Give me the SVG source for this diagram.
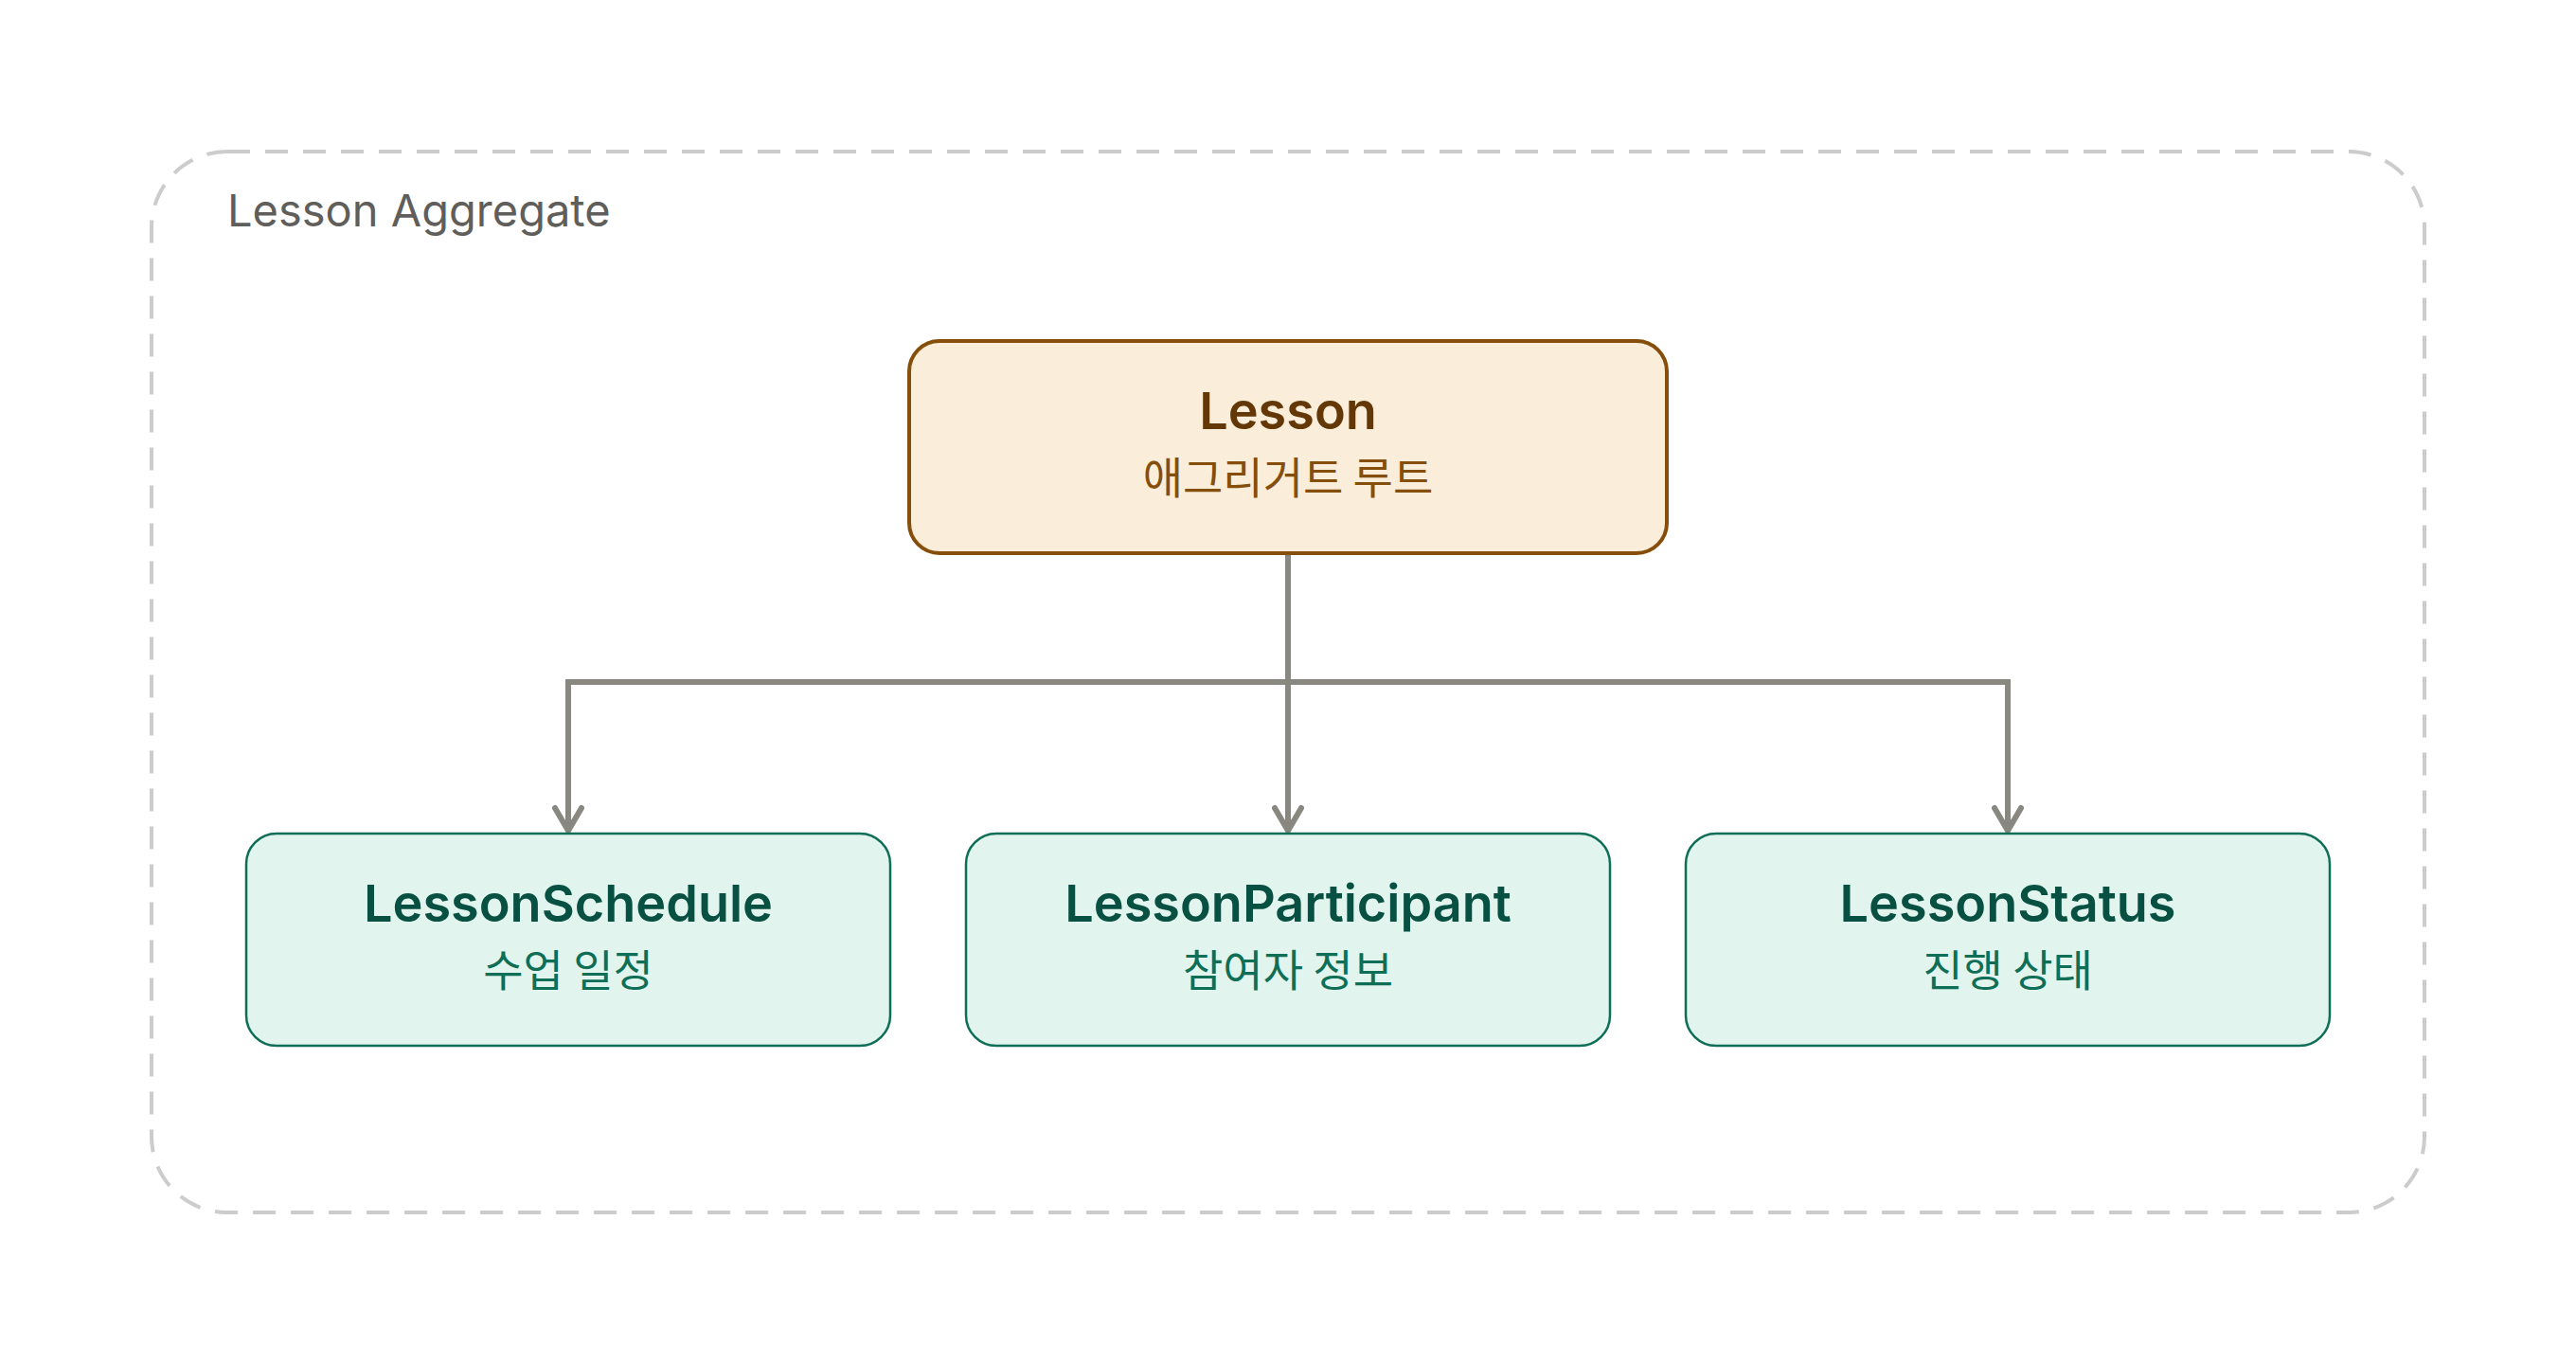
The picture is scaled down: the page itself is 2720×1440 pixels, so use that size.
<svg xmlns="http://www.w3.org/2000/svg" width="2720" height="1440" viewBox="0 0 2720 1440">
  <style>
    .t { font-family: Inter, "Noto Sans", "Noto Sans CJK KR", sans-serif; text-anchor: middle; }
    .title { font-size: 54px; font-weight: 600; }
    .sub { font-size: 46px; font-weight: 400; font-family: "Noto Sans CJK KR", Inter, sans-serif; }
    .root rect { fill: #FAEEDA; stroke: #854F0B; stroke-width: 4; }
    .root .title { fill: #633806; }
    .root .sub { fill: #854F0B; }
    .child rect { fill: #E1F5EE; stroke: #0F6E56; stroke-width: 2.5; }
    .child .title { fill: #085041; }
    .child .sub { fill: #0F6E56; }
    .conn path { fill: none; stroke: #888780; stroke-width: 6; stroke-linejoin: miter; }
  </style>
  <defs>
    <marker id="arrow" markerUnits="userSpaceOnUse" viewBox="-32 -20 36 40" refX="0" refY="0" markerWidth="36" markerHeight="40" orient="auto">
      <path d="M-24,-14 L0,0 L-24,14" fill="none" stroke="#888780" stroke-width="6" stroke-linecap="round" stroke-linejoin="round"/>
    </marker>
  </defs>
  <rect width="2720" height="1440" fill="#ffffff"/>
  <g id="aggregate">
    <rect x="160" y="160" width="2400" height="1120" rx="80" ry="80" fill="none" stroke="#cccccc" stroke-width="4" stroke-dasharray="24 16"/>
    <text x="240" y="239" font-family="Inter, 'Noto Sans', sans-serif" font-size="47" fill="#5F5E5A">Lesson Aggregate</text>
  </g>
  <g id="connectors" class="conn">
    <path d="M1360 584 V877" marker-end="url(#arrow)"/>
    <path d="M1360 720 H600 V877" marker-end="url(#arrow)"/>
    <path d="M1360 720 H2120 V877" marker-end="url(#arrow)"/>
  </g>
  <g id="lesson" class="root">
    <rect x="960" y="360" width="800" height="224" rx="32" ry="32"/>
    <text class="t title" x="1360" y="453">Lesson</text>
    <text class="t sub" x="1360" y="521">애그리거트 루트</text>
  </g>
  <g id="lesson-schedule" class="child">
    <rect x="260" y="880" width="680" height="224" rx="32" ry="32"/>
    <text class="t title" x="600" y="973">LessonSchedule</text>
    <text class="t sub" x="600" y="1041">수업 일정</text>
  </g>
  <g id="lesson-participant" class="child">
    <rect x="1020" y="880" width="680" height="224" rx="32" ry="32"/>
    <text class="t title" x="1360" y="973">LessonParticipant</text>
    <text class="t sub" x="1360" y="1041">참여자 정보</text>
  </g>
  <g id="lesson-status" class="child">
    <rect x="1780" y="880" width="680" height="224" rx="32" ry="32"/>
    <text class="t title" x="2120" y="973">LessonStatus</text>
    <text class="t sub" x="2120" y="1041">진행 상태</text>
  </g>
</svg>
